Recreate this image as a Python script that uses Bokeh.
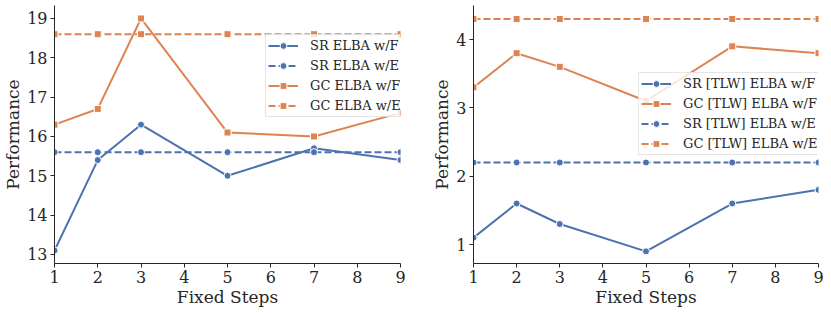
from bokeh.plotting import figure
from bokeh.layouts import row
from bokeh.models import Legend, LegendItem, Range1d, FixedTicker
from bokeh.embed import file_html
from bokeh.resources import INLINE

# ---- data ----
steps = [1, 2, 3, 5, 7, 9]
xticks = [1, 2, 3, 4, 5, 6, 7, 8, 9]

left_sr_f = [13.1, 15.4, 16.3, 15.0, 15.7, 15.4]
left_sr_e = [15.6, 15.6, 15.6, 15.6, 15.6, 15.6]
left_gc_f = [16.3, 16.7, 19.0, 16.1, 16.0, 16.6]
left_gc_e = [18.6, 18.6, 18.6, 18.6, 18.6, 18.6]
left_yticks = [13, 14, 15, 16, 17, 18, 19]

right_sr_f = [1.1, 1.6, 1.3, 0.9, 1.6, 1.8]
right_gc_f = [3.3, 3.8, 3.6, 3.1, 3.9, 3.8]
right_sr_e = [2.2, 2.2, 2.2, 2.2, 2.2, 2.2]
right_gc_e = [4.3, 4.3, 4.3, 4.3, 4.3, 4.3]
right_yticks = [1, 2, 3, 4]

BLUE = "#4c72b0"
ORANGE = "#dd8452"
TXT = "#262626"
FONT = "DejaVu Serif"


def make(fw, bl, br, y0, y1, yticks, series, loc):
    p = figure(frame_width=fw, frame_height=258,
               min_border_left=bl, min_border_right=br,
               min_border_top=5, min_border_bottom=40,
               x_range=Range1d(1, 9), y_range=Range1d(y0, y1),
               output_backend="svg", toolbar_location=None)
    p.outline_line_color = None
    p.xgrid.visible = False
    p.ygrid.visible = False
    p.background_fill_color = "white"
    p.border_fill_color = "white"

    items = []
    for label, ys, color, dashed, marker in series:
        ln = p.line(steps, ys, line_color=color, line_width=2,
                    line_dash="7 3" if dashed else "solid")
        sc = p.scatter(steps, ys, marker=marker, size=7, fill_color=color,
                       line_color="white", line_width=1)
        items.append(LegendItem(label=label, renderers=[ln, sc]))

    for ax in (p.xaxis[0], p.yaxis[0]):
        ax.axis_line_color = TXT
        ax.axis_line_width = 1
        ax.major_tick_line_color = TXT
        ax.major_tick_out = 4
        ax.major_tick_in = 0
        ax.minor_tick_line_color = None
        ax.major_label_text_font = FONT
        ax.major_label_text_font_size = "16px"
        ax.major_label_text_color = TXT
        ax.axis_label_text_font = FONT
        ax.axis_label_text_font_size = "17px"
        ax.axis_label_text_font_style = "normal"
        ax.axis_label_text_color = TXT
        ax.major_label_standoff = 3
        ax.axis_label_standoff = 1
    p.xaxis.ticker = FixedTicker(ticks=xticks)
    p.yaxis.ticker = FixedTicker(ticks=yticks)
    p.xaxis.axis_label = "Fixed Steps"
    p.yaxis.axis_label = "Performance"

    leg = Legend(items=items, location=loc, margin=0,
                 label_text_font=FONT, label_text_font_size="13px",
                 label_text_color=TXT,
                 glyph_width=30, glyph_height=17, label_height=17,
                 label_standoff=12, spacing=3, padding=2,
                 border_line_color="#cccccc", border_line_width=1,
                 background_fill_color="white", background_fill_alpha=0.8)
    p.add_layout(leg)
    return p


p1 = make(346, 54, 10, 12.77, 19.33, left_yticks, [
    ("SR ELBA w/F", left_sr_f, BLUE, False, "circle"),
    ("SR ELBA w/E", left_sr_e, BLUE, True, "circle"),
    ("GC ELBA w/F", left_gc_f, ORANGE, False, "square"),
    ("GC ELBA w/E", left_gc_e, ORANGE, True, "square"),
], (211, 146))

p2 = make(345, 63, 8, 0.722, 4.498, right_yticks, [
    ("SR [TLW] ELBA w/F", right_sr_f, BLUE, False, "circle"),
    ("GC [TLW] ELBA w/F", right_gc_f, ORANGE, False, "square"),
    ("SR [TLW] ELBA w/E", right_sr_e, BLUE, True, "circle"),
    ("GC [TLW] ELBA w/E", right_gc_e, ORANGE, True, "square"),
], (165, 108))

layout = row(p1, p2)
open("out.html", "w").write(file_html(layout, INLINE))
